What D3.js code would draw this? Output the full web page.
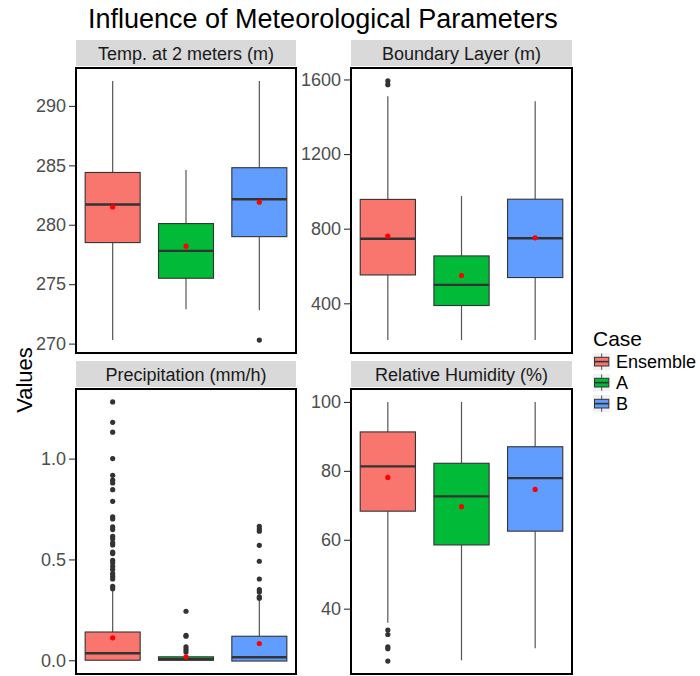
<!DOCTYPE html>
<html>
<head>
<meta charset="utf-8">
<script src="https://cdn.jsdelivr.net/npm/d3@7"></script>
<style>
  body { margin: 0; background: #fff; }
  svg { font-family: "Liberation Sans", Arial, sans-serif; }
</style>
</head>
<body>
<div id="chart"></div>
<script>
// categories
const cases = ["Ensemble", "A", "B"];
const caseColors = ["#F8766D", "#00BA38", "#619CFF"];
const facetTitles = ["Temp. at 2 meters (m)", "Boundary Layer (m)", "Precipitation (mm/h)", "Relative Humidity (%)"];

// box stats per case: [lower whisker, q1, median, q3, upper whisker]
const tempStats = [[270.3, 278.5, 281.7, 284.4, 292.1], [272.9, 275.5, 277.8, 280.1, 284.6], [272.8, 279.0, 282.15, 284.8, 292.1]];
const tempMeans = [281.5, 278.2, 281.9];
const tempOutliers = [[], [], [270.3]];
const tempTicks = [270, 275, 280, 285, 290];

const blStats = [[203, 552, 746, 957, 1510], [203, 388, 499, 654, 975], [203, 538, 749, 958, 1483]];
const blMeans = [760, 549, 751];
const blOutliers = [[1592, 1572], [], []];
const blTicks = [400, 800, 1200, 1600];

const precipStats = [[0, 0.0, 0.035, 0.140, 0.345], [0, 0.0, 0.005, 0.017, 0.035], [0, -0.004, 0.015, 0.119, 0.305]];
const precipMeans = [0.111, 0.017, 0.083];
const precipOutliers = [
  [1.281, 1.180, 1.131, 1.000, 0.917, 0.893, 0.879, 0.846, 0.788, 0.711, 0.701, 0.661, 0.648, 0.615, 0.602,
   0.582, 0.572, 0.536, 0.529, 0.496, 0.483, 0.466, 0.450, 0.430, 0.417, 0.403, 0.367, 0.355],
  [0.243, 0.124, 0.119, 0.066, 0.053, 0.041],
  [0.664, 0.651, 0.640, 0.570, 0.491, 0.403, 0.350, 0.339, 0.314, 0.308]
];
const precipTicks = [0.0, 0.5, 1.0];

const rhStats = [[35.9, 68.3, 81.3, 91.3, 100], [25.0, 58.5, 72.6, 82.2, 100], [28.5, 62.5, 77.9, 87.0, 100]];
const rhMeans = [78.1, 69.6, 74.6];
const rhOutliers = [[33.8, 32.5, 28.9, 28.4, 24.8], [], []];
const rhTicks = [40, 60, 80, 100];

const width = 700, height = 676;

const svg = d3.select('#chart')
    .append('svg')
    .attr('width', width)
    .attr('height', height)
    .attr('viewBox', [0, 0, width, height]);

// panel boxes (left, top, right, bottom)
const panels = [
    { title: facetTitles[0], stats: tempStats, means: tempMeans, outliers: tempOutliers, ticks: tempTicks, fmt: d3.format('d'), x0: 76, x1: 296, y0: 68, y1: 353 },
    { title: facetTitles[1], stats: blStats, means: blMeans, outliers: blOutliers, ticks: blTicks, fmt: d3.format('d'), x0: 351, x1: 572, y0: 68, y1: 353 },
    { title: facetTitles[2], stats: precipStats, means: precipMeans, outliers: precipOutliers, ticks: precipTicks, fmt: d3.format('.1f'), x0: 76, x1: 296, y0: 389, y1: 674 },
    { title: facetTitles[3], stats: rhStats, means: rhMeans, outliers: rhOutliers, ticks: rhTicks, fmt: d3.format('d'), x0: 351, x1: 572, y0: 389, y1: 674 }
];

// Title
svg.append('text')
    .attr('x', 88)
    .attr('y', 28)
    .attr('font-size', '27px')
    .attr('fill', '#000')
    .text('Influence of Meteorological Parameters');

// Y axis title
svg.append('text')
    .attr('transform', 'translate(32,380) rotate(-90)')
    .attr('text-anchor', 'middle')
    .attr('font-size', '22px')
    .attr('fill', '#000')
    .text('Values');

panels.forEach(p => {
    const g = svg.append('g');

    // y domain from data, padded 5% like ggplot
    const allVals = p.stats.flat().concat(p.outliers.flat());
    const lo = d3.min(allVals), hi = d3.max(allVals);
    const pad = (hi - lo) * 0.05;

    const y = d3.scaleLinear()
        .domain([lo - pad, hi + pad])
        .range([p.y1, p.y0]);

    const x = d3.scaleBand()
        .domain(cases)
        .range([p.x0, p.x1])
        .padding(0);

    const boxW = x.bandwidth() * 0.75;

    // strip
    g.append('rect')
        .attr('x', p.x0)
        .attr('y', p.y0 - 28)
        .attr('width', p.x1 - p.x0)
        .attr('height', 26)
        .attr('fill', '#D9D9D9');

    g.append('text')
        .attr('x', (p.x0 + p.x1) / 2)
        .attr('y', p.y0 - 8)
        .attr('text-anchor', 'middle')
        .attr('font-size', '18px')
        .attr('fill', '#1A1A1A')
        .text(p.title);

    // y axis
    const axis = g.append('g')
        .attr('transform', `translate(${p.x0},0)`)
        .call(d3.axisLeft(y).tickValues(p.ticks).tickFormat(p.fmt).tickSize(7).tickPadding(3));
    axis.select('.domain').remove();
    axis.selectAll('line').attr('stroke', '#333333').attr('stroke-width', 1.1);
    axis.selectAll('text')
        .attr('font-size', '18px')
        .attr('fill', '#4D4D4D')
        .attr('font-family', '"Liberation Sans", Arial, sans-serif');

    // boxes
    p.stats.forEach((s, i) => {
        const c = cases[i];
        const cx = x(c) + x.bandwidth() / 2;

        // whiskers
        g.append('line')
            .attr('x1', cx).attr('x2', cx)
            .attr('y1', y(s[0])).attr('y2', y(s[1]))
            .attr('stroke', '#555').attr('stroke-width', 1.2);
        g.append('line')
            .attr('x1', cx).attr('x2', cx)
            .attr('y1', y(s[3])).attr('y2', y(s[4]))
            .attr('stroke', '#555').attr('stroke-width', 1.2);

        g.append('rect')
            .attr('x', cx - boxW / 2)
            .attr('y', y(s[3]))
            .attr('width', boxW)
            .attr('height', Math.max(1, y(s[1]) - y(s[3])))
            .attr('fill', caseColors[i])
            .attr('stroke', '#333333')
            .attr('stroke-width', 1.1);

        // median
        g.append('line')
            .attr('x1', cx - boxW / 2).attr('x2', cx + boxW / 2)
            .attr('y1', y(s[2])).attr('y2', y(s[2]))
            .attr('stroke', '#333333').attr('stroke-width', 2.4);

        // outliers
        g.selectAll(null)
            .data(p.outliers[i])
            .join('circle')
            .attr('cx', cx)
            .attr('cy', d => y(d))
            .attr('r', 2.6)
            .attr('fill', '#333333');

        // mean
        g.append('circle')
            .attr('cx', cx)
            .attr('cy', y(p.means[i]))
            .attr('r', 2.6)
            .attr('fill', '#FF0000');
    });

    // panel border
    g.append('rect')
        .attr('x', p.x0)
        .attr('y', p.y0)
        .attr('width', p.x1 - p.x0)
        .attr('height', p.y1 - p.y0)
        .attr('fill', 'none')
        .attr('stroke', '#000')
        .attr('stroke-width', 2);
});

// Legend
const legend = svg.append('g').attr('transform', 'translate(593,0)');

legend.append('text')
    .attr('x', 0)
    .attr('y', 346)
    .attr('font-size', '21px')
    .attr('fill', '#000')
    .text('Case');

cases.forEach((c, i) => {
    const ky = 353 + i * 21;
    const k = legend.append('g').attr('transform', `translate(0,${ky})`);
    k.append('rect')
        .attr('width', 17.3).attr('height', 17.3)
        .attr('fill', '#F2F2F2');
    k.append('line')
        .attr('x1', 8.65).attr('x2', 8.65)
        .attr('y1', 0.5).attr('y2', 16.8)
        .attr('stroke', '#555').attr('stroke-width', 1);
    k.append('rect')
        .attr('x', 1.5).attr('y', 4.3)
        .attr('width', 14.3).attr('height', 8.7)
        .attr('fill', caseColors[i])
        .attr('stroke', '#333333').attr('stroke-width', 1);
    k.append('line')
        .attr('x1', 1.5).attr('x2', 15.8)
        .attr('y1', 8.65).attr('y2', 8.65)
        .attr('stroke', '#333333').attr('stroke-width', 1.6);
    legend.append('text')
        .attr('x', 23)
        .attr('y', ky + 15)
        .attr('font-size', '18px')
        .attr('fill', '#000')
        .text(c);
});
</script>
</body>
</html>
